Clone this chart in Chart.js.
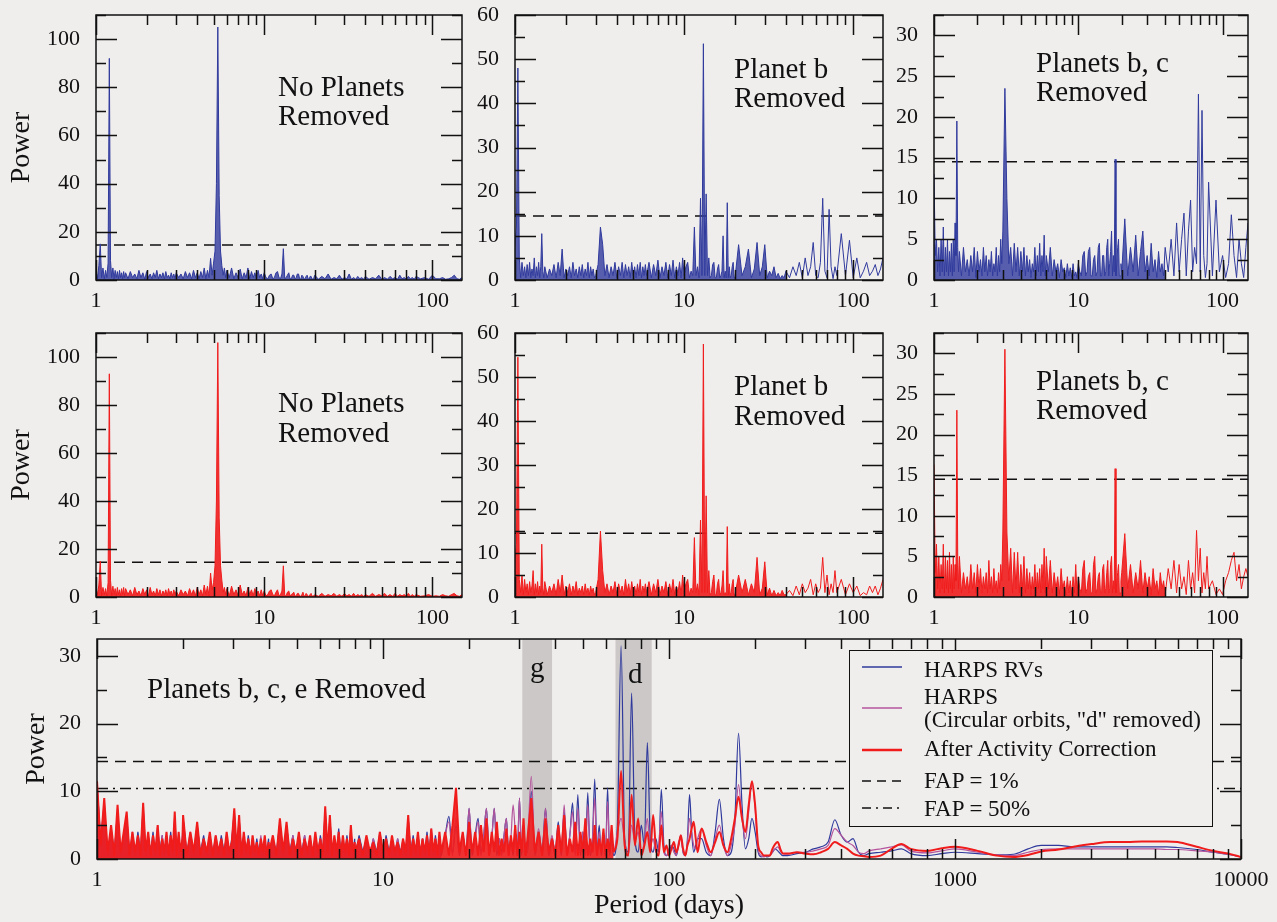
<!DOCTYPE html>
<html>
<head>
<meta charset="utf-8">
<title>HARPS periodograms</title>
<script src="https://cdn.jsdelivr.net/npm/chart.js@4.4.1/dist/chart.umd.min.js"></script>
<style>
  html, body { margin: 0; padding: 0; background: #f0eded; overflow: hidden; }
  #stage { position: relative; width: 1277px; height: 922px; font-family: 'Liberation Serif', 'Times New Roman', serif; color: #111; }
  #stage canvas { position: absolute; }
  .lbl { position: absolute; white-space: nowrap; line-height: 1; z-index: 3; }
  #legend { position: absolute; left: 849px; top: 650px; width: 364px; height: 177px; border: 1.5px solid #111;
            box-sizing: border-box; background: #f0eded; z-index: 2; }
  #legend svg { position: absolute; left: 0; top: 0; }
</style>
</head>
<body>
<div id="stage">
  <div id="legend">
    <svg width="364" height="177">
      <line x1="12" y1="16" x2="52" y2="16" stroke="#2f3a9c" stroke-width="1.5"/>
      <line x1="12" y1="57" x2="52" y2="57" stroke="#b4549c" stroke-width="1.5"/>
      <line x1="12" y1="99" x2="52" y2="99" stroke="#f01c1c" stroke-width="2.5"/>
      <line x1="12" y1="130" x2="52" y2="130" stroke="#111" stroke-width="1.5" stroke-dasharray="9,6"/>
      <line x1="12" y1="157" x2="52" y2="157" stroke="#111" stroke-width="1.5" stroke-dasharray="9,5,2,5"/>
    </svg>
  </div>
</div>
<script>
// ─── Data ───
const X_RANGE_TOP = [1, 150];
const X_RANGE_BOT = [1, 10000];
const X_TICKS_TOP = [1, 10, 100];
const X_TICKS_BOT = [1, 10, 100, 1000, 10000];
const Y_TICKS_110 = [0, 20, 40, 60, 80, 100];
const Y_TICKS_60 = [0, 10, 20, 30, 40, 50, 60];
const Y_TICKS_30 = [0, 5, 10, 15, 20, 25, 30];
const Y_TICKS_BOT = [0, 10, 20, 30];
const FAP_TOP = 14.5;
const FAP_1 = 14.4;
const FAP_50 = 10.4;
const BAND_G = [30.7, 39];
const BAND_D = [65, 87];

// period grid shared by the six small panels (days)
const PERIOD_TOP = [
  1.00, 1.02, 1.04, 1.06, 1.08, 1.10, 1.12, 1.14, 1.16, 1.18, 1.20, 1.22, 1.24, 1.26, 1.28, 1.30, 1.32, 1.34, 1.36, 1.38, 1.40, 1.42, 1.44, 1.46, 1.48,
  1.50, 1.55, 1.60, 1.65, 1.70, 1.75, 1.80, 1.85, 1.90, 1.95, 2.00, 2.05, 2.10, 2.15, 2.20, 2.25, 2.30, 2.35, 2.40, 2.45, 2.50, 2.55, 2.60, 2.65, 2.70, 2.75, 2.80, 2.85, 2.90, 2.95,
  3.0, 3.1, 3.2, 3.3, 3.4, 3.5, 3.6, 3.7, 3.8, 3.9, 4.0, 4.1, 4.2, 4.3, 4.4, 4.5, 4.6, 4.7, 4.8, 4.9, 5.0, 5.1, 5.2, 5.3, 5.4, 5.5, 5.6, 5.7, 5.8, 5.9,
  6.0, 6.2, 6.4, 6.6, 6.8, 7.0, 7.2, 7.4, 7.6, 7.8, 8.0, 8.2, 8.4, 8.6, 8.8, 9.0, 9.2, 9.4, 9.6, 9.8,
  10, 10.25, 10.5, 10.75, 11, 11.25, 11.5, 11.75, 12, 12.25, 12.5, 12.75, 13, 13.25, 13.5, 13.75, 14, 14.25, 14.5, 14.75,
  15, 15.25, 15.5, 15.75, 16, 16.25, 16.5, 16.75, 17, 17.25, 17.5, 17.75, 18, 18.25, 18.5, 18.75, 19, 19.25, 19.5, 19.75,
  20, 21, 22, 23, 24, 25, 26, 27, 28, 29, 30, 31, 32, 33, 34, 35, 36, 37, 38, 39,
  40, 42, 44, 46, 48, 50, 52, 54, 56, 58, 60, 62, 64, 66, 68, 70, 72, 74, 76, 78,
  80, 85, 90, 95, 100, 105, 110, 115, 120, 125, 130, 135, 140, 145, 150,
];

// No planets removed - HARPS RVs
const NONE_BLUE = [
  4, 0.5, 6, 15, 1, 5, 0.5, 4, 1, 7, 92, 8, 1, 5, 0.5, 4, 1, 3.5, 0.5, 4, 1, 3, 0.5, 3.5, 1,
  3, 0.5, 3.5, 1, 2.5, 0.5, 4, 1, 3, 0.3, 3.5, 1, 2.5, 0.5, 3, 1, 4, 0.5, 2.5, 1, 3, 0.5, 3.5, 1, 2, 0.5, 3, 1, 2.5, 0.5,
  3, 1, 2.5, 0.5, 3.5, 1, 3, 0.5, 4, 1, 3, 0.5, 3.5, 1, 5, 0.5, 4, 1, 9, 2, 7, 12, 40, 105, 35, 12, 6, 2, 5, 1,
  4, 1, 5, 0.5, 3, 1, 4.5, 0.5, 3, 1, 5, 0.5, 3.5, 1, 3, 0.5, 4, 1, 2.5, 0.5,
  3, 1, 0.5, 2, 2.5, 0.5, 1, 3, 3.5, 1, 0.5, 2.5, 13, 0.5, 1, 2, 3, 0.5, 0.5, 2,
  2, 0.5, 1, 2.5, 2.5, 0.5, 0.3, 2, 1.5, 0.3, 0.5, 1.5, 2, 0.5, 0.3, 1.5, 1.5, 0.3, 0.5, 1,
  2, 0.3, 1.5, 0.5, 2.5, 0.3, 1, 0.5, 2, 0.3, 1, 0.5, 2.5, 0.3, 1, 0.3, 1.5, 0.5, 1, 0.3,
  1.5, 0.3, 1, 0.5, 2, 0.3, 1, 0.3, 1.5, 0.5, 1, 0.3, 2, 0.5, 1, 0.3, 1.5, 0.5, 1, 0.3,
  1.5, 0.5, 1, 0.3, 2, 0.5, 0.5, 1, 0.3, 0.5, 1, 2, 0.5, 0.3, 1,
];

// Planet b removed - HARPS RVs
const B_BLUE = [
  8, 12, 48, 5, 0.5, 4, 1, 3, 0.5, 3.5, 1, 4, 0.5, 2.5, 1, 5, 0.5, 3, 1, 4, 0.5, 3, 10.5, 2, 0.5,
  3, 0.5, 2.5, 1, 3.5, 0.5, 4, 1, 7, 0.5, 2.5, 1, 3, 0.5, 4, 1, 2.5, 0.5, 3, 1, 3.5, 0.5, 2.5, 1, 4, 0.5, 3, 1, 2.5, 0.5,
  1, 3.5, 12, 8, 1, 3.5, 0.5, 3, 1, 4, 0.5, 3, 1, 4, 0.5, 3.5, 1, 3, 0.5, 4, 1, 3, 0.5, 3.5, 1, 4, 0.5, 3, 1, 3.5,
  1, 4, 0.5, 3.5, 1, 4.5, 0.5, 3, 1, 4, 0.5, 3.5, 1, 4.5, 0.5, 3, 1, 4, 0.5, 5,
  1, 3, 4, 0.5, 2, 1, 12, 1, 3, 0.5, 18.5, 1, 53.5, 1, 19.5, 1, 5, 0.5, 1, 3.5,
  4, 0.5, 0.5, 2.5, 3.5, 0.5, 1, 2, 10, 0.5, 2, 0.5, 17.5, 0.5, 3, 0.5, 1, 3, 4, 0.5,
  0.5, 8, 1, 3, 7, 0.5, 2.5, 8.5, 1, 3, 8, 0.5, 2, 1, 3, 0.5, 1.5, 0.3, 1, 0.5,
  2, 0.5, 3, 1, 4, 0.5, 5, 1, 3, 8.5, 1, 0.5, 4, 18.5, 2, 0.5, 16, 3, 0.3, 3,
  1, 10.5, 1, 9, 0.5, 5, 0.5, 2, 4, 1, 2, 3.5, 1, 2.5, 5,
];

// Planets b, c removed - HARPS RVs
const BC_BLUE = [
  13, 3, 5, 1, 4, 0.5, 5, 1, 6.5, 0.5, 4, 1, 5, 0.5, 3.5, 1, 4.5, 0.5, 5, 1, 7, 3, 19.5, 4, 1,
  3.5, 0.5, 4, 1, 2.5, 0.5, 3, 1, 4, 0.3, 3.5, 1, 2.5, 0.5, 4, 1, 3, 0.5, 2.5, 1, 3.5, 0.5, 2, 1, 4, 0.5, 3, 1, 5, 2,
  6, 23.5, 10, 2, 4, 0.5, 4.5, 1, 4, 0.5, 3.5, 1, 4, 0.5, 3, 1, 2.5, 0.3, 2, 1, 4, 0.5, 3, 1, 4.5, 0.5, 3, 1, 5.5, 0.5,
  3, 1, 4, 0.5, 2.5, 1, 2, 0.3, 2.5, 1, 1.5, 0.3, 2, 0.5, 1.5, 0.3, 2, 0.5, 1, 0.3,
  2, 1, 0.5, 3, 3.5, 0.5, 1, 3.5, 4, 0.5, 0.5, 2.5, 3, 0.5, 1, 4, 4.5, 0.5, 0.5, 3,
  3, 0.5, 1, 4, 5, 0.5, 2, 3.5, 6, 0.5, 3, 1, 14.8, 0.5, 2, 4, 5, 0.5, 0.5, 2,
  1, 7.5, 0.5, 4, 1, 5.5, 0.5, 3.5, 6, 1, 3, 0.5, 4.5, 1, 2.5, 0.3, 3.5, 1, 2, 0.5,
  4, 1, 5, 0.5, 7, 1, 5, 8.2, 0.5, 6, 9.8, 1, 4, 2, 22.8, 1, 20.8, 3, 0.3, 2,
  12, 0.5, 9.8, 1, 3, 0.3, 2, 8, 3, 0.3, 5, 2, 0.3, 4, 7,
];

// No planets removed - after activity correction
const NONE_RED = [
  3.5, 1, 5, 15, 0.5, 4, 1, 3.5, 0.5, 6, 93, 7, 0.5, 4.5, 1, 3.5, 0.5, 4, 1, 3, 0.5, 3.5, 1, 4, 0.5,
  3.5, 1, 3, 0.5, 4, 1, 2.5, 0.5, 3.5, 1, 3, 0.3, 4, 1, 2.5, 0.5, 3.5, 1, 3, 0.5, 2.5, 1, 3, 0.5, 3.5, 1, 2.5, 0.5, 3, 1,
  2.5, 0.5, 3, 1, 2.5, 0.5, 3.5, 1, 3, 0.5, 4, 1, 3, 0.5, 5, 1, 4.5, 0.5, 10, 3, 6, 13, 40, 106, 33, 13, 7, 2, 4, 1,
  3.5, 0.5, 4.5, 1, 3, 0.5, 5, 1, 2.5, 0.5, 4, 1, 3, 0.5, 3.5, 1, 2.5, 0.5, 3, 0.5,
  2.5, 0.5, 1, 2.5, 3, 1, 0.5, 2, 3, 0.5, 1, 2.5, 13, 0.5, 0.5, 2, 2.5, 0.5, 1, 1.5,
  2, 0.3, 0.5, 1.5, 1.5, 0.3, 0.3, 1, 2, 0.3, 0.5, 1.5, 1, 0.3, 0.3, 1, 1.5, 0.3, 0.3, 0.5,
  1, 0.3, 1.5, 0.3, 1, 0.5, 1.5, 0.3, 1, 0.3, 1.5, 0.5, 1, 0.3, 1.5, 0.3, 1, 0.5, 1, 0.3,
  1, 0.3, 1.5, 0.3, 1, 0.5, 1.5, 0.3, 1, 0.3, 1.5, 0.3, 1, 0.5, 1, 0.3, 1.5, 0.3, 1, 0.3,
  1, 0.3, 0.5, 1, 0.3, 0.5, 0.3, 1, 0.5, 0.3, 1, 1.5, 0.5, 0.3, 1,
];

// Planet b removed - after activity correction
const B_RED = [
  8, 12, 54.5, 4, 1, 5, 0.5, 4, 1, 3, 0.5, 3.5, 1, 2.5, 6, 0.5, 3, 1, 3.5, 0.5, 2.5, 1, 12, 2, 0.5,
  3.5, 0.5, 2.5, 1, 3, 0.5, 4, 1, 5, 0.5, 2.5, 1, 3, 0.5, 2.5, 1, 3.5, 0.5, 2, 1, 2.5, 0.5, 3, 1, 2, 0.5, 2.5, 1, 2, 0.5,
  1, 4, 15, 6, 1, 3, 0.5, 2.5, 1, 3.5, 0.5, 3, 1, 2.5, 0.5, 4, 1, 3, 0.5, 3.5, 1, 2.5, 0.5, 3, 1, 4, 0.5, 2.5, 1, 3,
  1, 3.5, 0.5, 3, 1, 4, 0.5, 2.5, 1, 3.5, 0.5, 3, 1, 4, 0.5, 2.5, 1, 3.5, 0.5, 5,
  1, 3, 4, 0.5, 2, 1, 13.5, 1, 3, 0.5, 17.5, 1, 57.5, 1, 23, 1, 6, 0.5, 1, 3.5,
  5, 0.5, 0.5, 3, 4, 0.5, 1, 2.5, 6, 0.5, 1, 0.5, 16, 0.5, 3, 0.5, 1, 3, 4, 0.5,
  0.5, 5, 1, 4, 0.5, 3, 1, 9, 0.5, 2, 8, 0.5, 2, 0.3, 1.5, 0.3, 1, 0.3, 1.5, 0.5,
  0.5, 1.5, 0.3, 2.5, 0.5, 3, 1, 2, 4, 0.5, 3, 1, 2, 9, 1, 5, 0.5, 3, 1, 6,
  1, 4, 0.5, 3, 1, 2.5, 0.3, 1, 0.5, 2.5, 1, 2.5, 0.5, 2, 4,
];

// Planets b, c removed - after activity correction
const BC_RED = [
  16.3, 3, 6.5, 1, 5, 0.5, 4, 1, 6.5, 0.5, 5, 1, 4.5, 0.5, 5.5, 1, 4, 0.5, 5, 1, 4, 2, 23, 5, 1,
  5, 0.5, 3, 1, 2.5, 0.5, 4, 1, 3, 0.5, 4, 1, 3.5, 0.5, 2.5, 1, 3, 0.5, 4.5, 1, 2.5, 0.5, 3.5, 1, 2, 0.5, 3, 1, 4, 2,
  8, 30.5, 8, 2, 6, 0.5, 5.5, 1, 5.5, 0.5, 4, 1, 5, 0.5, 3.5, 1, 3, 0.3, 2.5, 1, 4, 0.5, 3, 1, 3.5, 0.5, 4, 1, 6, 0.5,
  5, 1, 4.5, 0.5, 3, 1, 2.5, 0.3, 3.5, 1, 2, 0.3, 2.5, 0.5, 2, 0.3, 2.5, 0.5, 4, 0.3,
  2.5, 1, 0.5, 3.5, 4.5, 0.5, 1, 2.5, 3, 0.5, 0.5, 4, 5, 0.5, 1, 2.5, 3, 0.5, 0.5, 3.5,
  4, 0.5, 1, 3, 4.5, 0.5, 1, 4, 5, 0.5, 2, 1, 15.8, 0.5, 2, 3, 4, 0.5, 0.5, 2,
  3, 7.8, 1, 4, 0.5, 3, 1, 4.5, 0.5, 3, 1, 2.5, 0.3, 3.5, 1, 2, 0.3, 3, 1, 2,
  0.3, 3.5, 1, 4.5, 0.5, 4, 1, 2.5, 0.3, 4.5, 1, 3, 0.5, 8.2, 2, 6, 0.5, 3, 1, 5,
  1, 2, 0.3, 1, 0.3, 2, 3, 4.5, 5.5, 2, 4, 1, 2.5, 3.5, 2.5,
];

// period grid of the wide panel (days)
const PERIOD_BOT = [
  1.00, 1.03, 1.06, 1.09, 1.12, 1.15, 1.18, 1.21, 1.24, 1.27, 1.30, 1.33, 1.36, 1.39, 1.42, 1.45, 1.48, 1.51, 1.54, 1.57, 1.60, 1.63, 1.66, 1.69, 1.72, 1.75, 1.78, 1.81, 1.84, 1.87, 1.90, 1.93, 1.96, 1.99,
  2.00, 2.06, 2.12, 2.18, 2.24, 2.30, 2.36, 2.42, 2.48, 2.54, 2.60, 2.66, 2.72, 2.78, 2.84, 2.90, 2.96, 3.02, 3.08, 3.14, 3.20, 3.26, 3.32, 3.38, 3.44, 3.50, 3.56, 3.62, 3.68, 3.74, 3.80, 3.86, 3.92, 3.98,
  4.00, 4.12, 4.24, 4.36, 4.48, 4.60, 4.72, 4.84, 4.96, 5.08, 5.20, 5.32, 5.44, 5.56, 5.68, 5.80, 5.92, 6.04, 6.16, 6.28, 6.40, 6.52, 6.64, 6.76, 6.88, 7.00, 7.12, 7.24, 7.36, 7.48, 7.60, 7.72, 7.84, 7.96,
  8.00, 8.25, 8.50, 8.75, 9.00, 9.25, 9.50, 9.75, 10.0, 10.25, 10.5, 10.75, 11.0, 11.25, 11.5, 11.75, 12.0, 12.25, 12.5, 12.75, 13.0, 13.25, 13.5, 13.75, 14.0, 14.25, 14.5, 14.75, 15.0, 15.25, 15.5, 15.75,
  16, 16.5, 17, 17.5, 18, 18.5, 19, 19.5, 20, 20.5, 21, 21.5, 22, 22.5, 23, 23.5, 24, 24.5, 25, 25.5, 26, 26.5, 27, 27.5, 28, 28.5, 29, 29.5, 30, 30.5, 31, 31.5,
  32, 33, 34, 35, 36, 37, 38, 39, 40, 41, 42, 43, 44, 45, 46, 47, 48, 49, 50, 51, 52, 53, 54, 55, 56, 57, 58, 59, 60, 61, 62, 63,
  64, 66, 68, 70, 72, 74, 76, 78, 80, 82, 84, 86, 88, 90, 92, 94, 96, 98, 100, 102, 104, 106, 108, 110, 112, 114, 116, 118, 120, 122, 124, 126,
  130, 135, 140, 145, 150, 155, 160, 165, 170, 175, 180, 185, 190, 195, 200, 205, 210, 215, 220, 225, 230, 235, 240, 245, 250,
  260, 280, 300, 320, 340, 360, 380, 400, 420, 440, 460, 480, 500,
  550, 600, 650, 700, 800, 900, 1000,
  1200, 1400, 1600, 1800, 2000, 2300, 2600, 3000, 3500, 4000, 4500, 5000, 5500, 6000, 7000, 8000, 9000, 10000,
];

// Planets b, c, e removed - HARPS RVs
const BCE_HARPS = [
  11, 3, 8, 0.5, 4.5, 1, 7, 0.5, 3.5, 6, 1, 3.5, 0.5, 4, 1, 7.5, 0.5, 3.5, 1, 4, 0.5, 4.5, 1, 3.5, 0.5, 3, 1, 4, 0.5, 6, 1, 3.5, 0.5, 3.5,
  6, 1, 3.5, 0.5, 5, 1, 3.5, 0.5, 3.5, 1, 3, 0.5, 3.5, 1, 3.5, 0.5, 3, 7, 0.5, 6, 1, 3.5, 0.5, 3.5, 1, 3, 0.5, 3, 1, 2.5, 0.5, 3, 1, 3,
  0.5, 3, 1, 5.5, 0.5, 5, 1, 3.5, 0.5, 3.5, 1, 3.5, 0.5, 3, 1, 3.5, 0.5, 3.5, 1, 7, 0.5, 6, 1, 3, 0.5, 4.5, 1, 3, 0.5, 3.5, 1, 4.5, 0.5, 3,
  0.5, 3.5, 1, 3, 0.5, 3, 1, 3.5, 0.5, 3.5, 1, 3, 0.5, 3, 1, 2.5, 0.5, 6, 1, 3.5, 0.5, 3.5, 1, 3, 0.5, 4, 1, 4, 0.5, 3.5, 1, 3.5,
  0.5, 3.5, 6.3, 1, 5, 0.5, 3.5, 1, 7.5, 0.5, 3.5, 6, 1, 3.5, 7.5, 1, 3, 7.5, 0.5, 3, 1, 3.5, 6, 1, 3, 0.5, 4, 1, 9, 0.5, 5, 1,
  1, 10, 0.5, 4, 1, 7.5, 0.5, 3, 1, 5.5, 0.5, 7, 1, 3.5, 8.3, 1, 9.5, 0.5, 4, 1, 9.8, 0.5, 3, 11.8, 1, 5, 0.5, 3, 1, 10.5, 0.5, 3,
  0.5, 5, 31.5, 3, 1, 24.5, 3, 1, 5, 2, 17.2, 3, 1, 3, 1, 10.3, 2, 0.5, 1, 2, 1.5, 0.5, 2, 3.5, 1, 0.5, 3, 9.5, 4, 1, 2, 3,
  3, 1, 0.5, 4, 8.8, 3, 0.5, 1, 6, 18.6, 8, 1.5, 3, 6, 4, 1, 0.3, 0.5, 0.3, 0.5, 1, 1.5, 1.2, 0.8, 0.5,
  0.5, 0.8, 1, 1.5, 1.8, 2.5, 5.8, 3.5, 2.5, 3, 1, 0.5, 0.8,
  1, 1.2, 1.5, 0.8, 0.5, 0.8, 1.0,
  0.8, 0.6, 0.7, 1.5, 2.0, 2.0, 1.8, 1.8, 1.8, 1.8, 1.8, 1.8, 1.8, 1.7, 1.4, 1.0, 0.7, 0.3,
];

// Planets b, c, e removed - HARPS, circular orbits, "d" removed
const BCE_CIRC = [
  11, 2.5, 8.5, 1, 4, 0.5, 7.5, 1, 3, 6.5, 0.5, 4, 1, 3, 0.5, 8, 1, 3.5, 0.5, 3, 1, 5, 0.5, 3.5, 1, 3.5, 0.5, 3, 1, 6.5, 0.5, 3.5, 1, 3,
  6, 0.5, 4, 1, 5, 0.5, 3, 1, 3.5, 0.5, 3.5, 1, 2.5, 0.5, 3.5, 1, 2.5, 7, 1, 6, 0.5, 3.5, 1, 3, 0.5, 3, 1, 2.5, 0.5, 3.5, 1, 3, 0.5, 2.5,
  1, 3, 0.5, 5.5, 1, 5, 0.5, 3.5, 1, 3.5, 0.5, 3.5, 1, 3, 0.5, 3.5, 1, 3, 0.5, 7.5, 1, 6, 0.5, 3, 1, 3.5, 0.5, 3, 1, 3, 0.5, 4.5, 1, 2.5,
  1, 3, 0.5, 3, 1, 3, 0.5, 4, 1, 3, 0.5, 3, 1, 3, 0.5, 3, 1, 6, 0.5, 3, 1, 3.5, 0.5, 3, 1, 3, 0.5, 4.5, 1, 3, 0.5, 3.5,
  1, 3.5, 5.5, 0.5, 6, 1, 3.5, 0.5, 7.5, 1, 3, 5.5, 0.5, 3.5, 7.5, 0.5, 3, 7.5, 1, 3, 0.5, 3.5, 6, 0.5, 3, 8, 4, 0.5, 9, 1, 4.5, 0.5,
  2, 12.2, 1, 4.5, 0.5, 7.5, 1, 3.5, 0.5, 5, 1, 8, 0.5, 3.5, 7, 0.5, 7.5, 1, 4, 0.5, 8, 1, 3, 9, 0.5, 4, 1, 3, 0.5, 8.5, 1, 3,
  1, 4, 6, 2.5, 0.5, 5, 2.5, 4, 1, 2.5, 6, 2, 3, 1, 2, 7, 1, 0.5, 1.5, 2, 1, 0.5, 2.5, 3, 1, 0.5, 2.5, 6, 4, 2, 1.5, 3,
  4.5, 2, 0.5, 3, 5, 2, 0.5, 2, 5, 11, 6, 3, 7, 11.3, 7.5, 1.5, 0.5, 0.3, 0.5, 0.5, 1, 1.5, 1.8, 1.2, 0.8,
  0.7, 1, 1, 1.2, 1.5, 2, 4.5, 3.5, 2.5, 2, 1, 0.8, 1.2,
  1.5, 1.8, 2.1, 1.2, 0.9, 1.2, 1.5,
  1.0, 0.6, 0.5, 1.0, 1.4, 1.5, 1.5, 1.5, 1.5, 1.5, 1.5, 1.5, 1.4, 1.4, 1.2, 1.0, 0.7, 0.3,
];

// Planets b, c, e removed - after activity correction
const BCE_ACT = [
  11.5, 2, 9, 1, 5, 0.5, 8, 1, 4, 7, 0.5, 4, 1, 3.5, 0.5, 8.3, 1, 4, 0.5, 3.5, 1, 5, 0.5, 3, 1, 4, 0.5, 3.5, 1, 7, 0.5, 4, 1, 3,
  6.5, 0.5, 4, 1, 5.5, 0.5, 3, 1, 4, 0.5, 3.5, 1, 3, 0.5, 4, 1, 2.5, 7.5, 1, 6.5, 0.5, 4, 1, 3, 0.5, 3.5, 1, 2.5, 0.5, 3, 1, 3.5, 0.5, 2.5,
  1, 3.5, 0.5, 6, 1, 5.5, 0.5, 3, 1, 4, 0.5, 3, 1, 3.5, 0.5, 4, 1, 3, 0.5, 7.8, 1, 6.5, 0.5, 3.5, 1, 4, 0.5, 3.5, 1, 3, 0.5, 5, 1, 2.5,
  1, 3, 0.5, 3.5, 1, 2.5, 0.5, 4, 1, 3, 0.5, 3.5, 1, 2.5, 0.5, 3, 1, 6.5, 0.5, 3, 1, 4, 0.5, 3, 1, 3.5, 0.5, 4.5, 1, 3, 0.5, 4,
  1, 4, 0.5, 5, 10.5, 1, 4, 0.5, 5.5, 1, 4, 0.5, 5, 1, 6, 0.5, 4, 1, 5.5, 0.5, 3, 1, 4.5, 0.5, 3.5, 1, 5, 0.5, 4, 1, 6, 0.5,
  3, 9, 1, 4, 0.5, 6, 1, 3, 0.5, 5, 1, 6.5, 0.5, 3, 1, 5.5, 0.5, 4, 1, 6, 0.5, 3, 1, 5, 0.5, 3, 1, 4.5, 0.5, 3, 1, 5,
  1, 3, 13, 2, 0.5, 9.5, 2, 6, 0.5, 2, 4, 1, 6.5, 1.5, 0.5, 5, 1, 2, 0.5, 1.5, 2.5, 1, 2, 3.5, 1.5, 0.5, 2, 3, 4.5, 5.5, 3, 1,
  4.5, 2.5, 1, 2.5, 4, 2, 1, 3, 6, 9.2, 6, 4, 8, 11.5, 8, 2, 1, 0.5, 0.5, 0.5, 1.5, 2.2, 2.5, 1.5, 0.8,
  0.8, 1, 0.8, 0.7, 1, 1.5, 2.5, 2, 1.5, 0.8, 0.5, 0.4, 0.3,
  0.5, 1.5, 2.2, 1.5, 1.2, 1.6, 1.8,
  1.2, 0.5, 0.3, 0.6, 1.1, 1.4, 1.8, 2.2, 2.5, 2.5, 2.6, 2.6, 2.6, 2.5, 1.8, 1.2, 0.8, 0.3,
];

// ─── Styling ───
const BLUE = '#2f3a9c';
const PURPLE = '#b4549c';
const RED = '#f01c1c';
const INK = '#111';
const FILL = { [BLUE]: 'rgba(47,58,156,0.8)', [PURPLE]: 'rgba(180,84,156,0.8)', [RED]: 'rgba(240,28,28,0.9)' };

Chart.defaults.font.family = "'Liberation Serif', 'Times New Roman', serif";
Chart.defaults.color = INK;

const stage = document.getElementById('stage');
const pts = (xs, ys) => xs.map((x, i) => ({ x, y: ys[i] }));
const level = (range, y) => range.map((x) => ({ x, y }));

// frame, inward ticks on all four sides, shaded bands
const frameTicks = {
  id: 'frameTicks',
  beforeDatasetsDraw(chart, args, opts) {
    const { ctx, chartArea: a, scales: { x } } = chart;
    ctx.save();
    ctx.fillStyle = '#ccc8c8';
    (opts.bands || []).forEach(([lo, hi]) => {
      const x0 = x.getPixelForValue(lo);
      const x1 = x.getPixelForValue(hi);
      ctx.fillRect(x0, a.top, x1 - x0, a.bottom - a.top);
    });
    ctx.restore();
  },
  afterDraw(chart, args, opts) {
    const { ctx, chartArea: a, scales: { x, y } } = chart;
    ctx.save();
    ctx.strokeStyle = INK;
    ctx.lineWidth = 1.5;
    ctx.beginPath();
    for (let d = 1; d <= x.max; d *= 10) {
      for (let k = 1; k <= 9; k++) {
        const v = k * d;
        if (v < x.min || v > x.max) continue;
        const px = Math.round(x.getPixelForValue(v)) + 0.5;
        const len = k === 1 ? 20 : 10;
        ctx.moveTo(px, a.bottom); ctx.lineTo(px, a.bottom - len);
        ctx.moveTo(px, a.top); ctx.lineTo(px, a.top + len);
      }
    }
    const ratio = Math.round(opts.yMajor / opts.yMinor);
    for (let i = 0; i * opts.yMinor <= y.max + 1e-9; i++) {
      const py = Math.round(y.getPixelForValue(i * opts.yMinor)) + 0.5;
      const len = i % ratio === 0 ? 21 : 10;
      ctx.moveTo(a.left, py); ctx.lineTo(a.left + len, py);
      ctx.moveTo(a.right, py); ctx.lineTo(a.right - len, py);
    }
    ctx.stroke();
    ctx.strokeRect(a.left, a.top, a.right - a.left, a.bottom - a.top);
    ctx.restore();
  },
};

function line(data, color, width, order, extra) {
  return Object.assign({
    data, borderColor: color, borderWidth: width, pointRadius: 0,
    borderJoinStyle: 'bevel', fill: false, order,
  }, extra || {});
}

// the short-period part of a periodogram is so crowded that it prints as a solid band:
// draw it filled to zero, and the sparser long-period part as a plain line
function periodogram(xs, ys, cut, color, width, order, smooth) {
  const all = pts(xs, ys);
  const dense = all.filter((p) => p.x <= cut);
  const sparse = all.filter((p) => p.x >= cut);
  const out = [line(dense, color, width, order, { fill: 'origin', backgroundColor: FILL[color] })];
  if (sparse.length > 1) {
    out.push(line(sparse, color, width, order, smooth ? { cubicInterpolationMode: 'monotone' } : {}));
  }
  return out;
}

function makePanel(p) {
  const [cl, ct, cw, ch] = p.box;
  const [fl, ft, fr, fb] = p.frame;
  const cv = document.createElement('canvas');
  cv.width = cw;
  cv.height = ch;
  cv.style.left = cl + 'px';
  cv.style.top = ct + 'px';
  stage.appendChild(cv);

  new Chart(cv, {
    type: 'line',
    data: { datasets: p.datasets },
    plugins: [frameTicks],
    options: {
      responsive: false,
      animation: false,
      events: [],
      layout: { padding: { top: ft - ct, right: cl + cw - fr, left: 0, bottom: 0 } },
      plugins: {
        legend: { display: false },
        tooltip: { enabled: false },
        frameTicks: { yMinor: p.yMinor, yMajor: p.yMajor, bands: p.bands },
      },
      scales: {
        x: {
          type: 'logarithmic',
          min: p.xRange[0],
          max: p.xRange[1],
          grid: { display: false, drawTicks: false },
          border: { display: false },
          afterFit: (s) => { s.height = ct + ch - fb; s.paddingLeft = 0; s.paddingRight = 0; },
          afterBuildTicks: (s) => { s.ticks = p.xTicks.map((v) => ({ value: v })); },
          ticks: { autoSkip: false, maxRotation: 0, padding: 8, font: { size: 22 }, callback: (v) => String(v) },
          title: p.xTitle
            ? { display: true, text: p.xTitle, font: { size: 28 }, padding: { top: 0, bottom: 0 } }
            : { display: false },
        },
        y: {
          type: 'linear',
          min: 0,
          max: p.yMax,
          grid: { display: false, drawTicks: false },
          border: { display: false },
          afterFit: (s) => { s.width = fl - cl; s.paddingTop = 0; s.paddingBottom = 0; },
          afterBuildTicks: (s) => { s.ticks = p.yTicks.map((v) => ({ value: v })); },
          ticks: { padding: 16, font: { size: 22 }, callback: (v) => String(v) },
          title: p.yTitle
            ? { display: true, text: 'Power', font: { size: 28 }, padding: { top: 5, bottom: 0 } }
            : { display: false },
        },
      },
    },
  });
}

function smallPanel(box, frame, yMax, yTicks, yMinor, yMajor, power, color, cut, yTitle) {
  return {
    box, frame, yMax, yTicks, yMinor, yMajor, yTitle,
    xRange: X_RANGE_TOP, xTicks: X_TICKS_TOP,
    datasets: [
      line(level(X_RANGE_TOP, FAP_TOP), INK, 1.5, 1, { borderDash: [11, 7] }),
      ...periodogram(PERIOD_TOP, power, cut, color, 1, 0, false),
    ],
  };
}

const PANELS = [
  smallPanel([0, 0, 480, 325], [96, 15, 462, 280], 110, Y_TICKS_110, 10, 20, NONE_BLUE, BLUE, 150, true),
  smallPanel([470, 0, 430, 325], [515, 15, 883, 280], 60, Y_TICKS_60, 5, 10, B_BLUE, BLUE, 40, false),
  smallPanel([890, 0, 387, 325], [934, 15, 1248, 280], 32.5, Y_TICKS_30, 2.5, 5, BC_BLUE, BLUE, 40, false),
  smallPanel([0, 318, 480, 325], [96, 333, 462, 597], 110, Y_TICKS_110, 10, 20, NONE_RED, RED, 150, true),
  smallPanel([470, 318, 430, 325], [515, 333, 883, 597], 60, Y_TICKS_60, 5, 10, B_RED, RED, 40, false),
  smallPanel([890, 318, 387, 325], [934, 333, 1248, 597], 32.5, Y_TICKS_30, 2.5, 5, BC_RED, RED, 40, false),
  {
    box: [15, 620, 1262, 302], frame: [97, 639, 1241, 859],
    yMax: 32.5, yTicks: Y_TICKS_BOT, yMinor: 5, yMajor: 10, yTitle: true,
    xRange: X_RANGE_BOT, xTicks: X_TICKS_BOT, xTitle: 'Period (days)',
    bands: [BAND_G, BAND_D],
    datasets: [
      line(level(X_RANGE_BOT, FAP_1), INK, 1.5, 4, { borderDash: [11, 7] }),
      line(level(X_RANGE_BOT, FAP_50), INK, 1.5, 4, { borderDash: [11, 5, 2, 5] }),
      ...periodogram(PERIOD_BOT, BCE_HARPS, 16, BLUE, 1.2, 2, true),
      ...periodogram(PERIOD_BOT, BCE_CIRC, 16, PURPLE, 1.2, 1, true),
      ...periodogram(PERIOD_BOT, BCE_ACT, 64, RED, 2, 0, true),
    ],
  },
];

PANELS.forEach(makePanel);

// ─── Text annotations: [text, left, baseline, size] ───
const TEXTS = [
  ['No Planets', 278, 96, 29], ['Removed', 278, 125, 29],
  ['Planet b', 734, 78, 29], ['Removed', 734, 107, 29],
  ['Planets b, c', 1036, 72, 29], ['Removed', 1036, 101, 29],
  ['No Planets', 278, 412, 29], ['Removed', 278, 442, 29],
  ['Planet b', 734, 395, 29], ['Removed', 734, 425, 29],
  ['Planets b, c', 1036, 390, 29], ['Removed', 1036, 419, 29],
  ['Planets b, c, e Removed', 147, 698, 29],
  ['g', 530, 677, 29], ['d', 628, 683, 29],
  ['HARPS RVs', 924, 677, 23],
  ['HARPS', 924, 704, 23],
  ['(Circular orbits, "d" removed)', 924, 727, 23],
  ['After Activity Correction', 924, 756, 23],
  ['FAP = 1%', 924, 788, 23],
  ['FAP = 50%', 924, 816, 23],
];

TEXTS.forEach(([text, x, base, size]) => {
  const d = document.createElement('div');
  d.className = 'lbl';
  d.textContent = text;
  d.style.left = x + 'px';
  d.style.top = (base - 0.8375 * size) + 'px';
  d.style.fontSize = size + 'px';
  stage.appendChild(d);
});
</script>
</body>
</html>
